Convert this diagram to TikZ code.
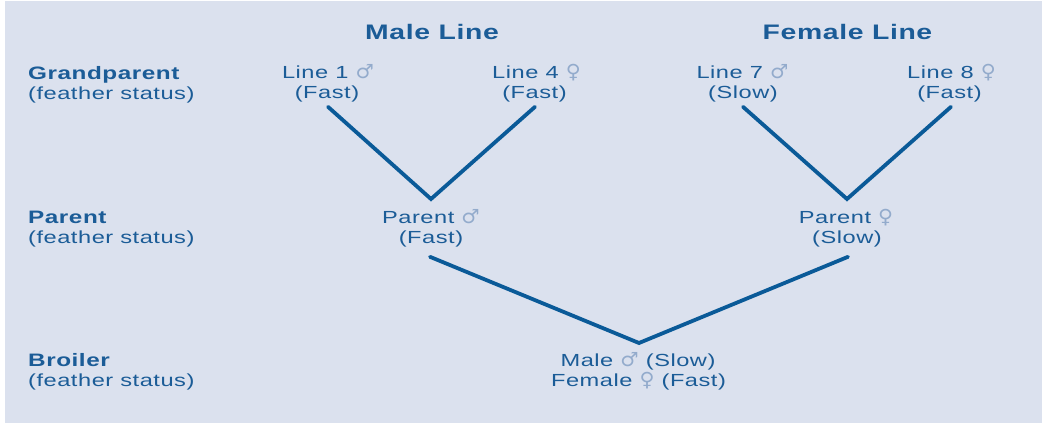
\documentclass[tikz,border=0pt]{standalone}
\usepackage{fontspec}
\setmainfont[FakeStretch=1.35,LetterSpace=3]{Liberation Sans}
\newfontfamily\symfont[FakeStretch=1.05]{DejaVu Sans}
\definecolor{bgc}{HTML}{DBE1EE}
\definecolor{txc}{HTML}{1B5C97}
\definecolor{lnc}{HTML}{0A5A98}
\definecolor{syc}{HTML}{93ABCC}
\newcommand{\ma}{{\symfont\fontsize{19.5}{20}\selectfont\color{syc}\char"2642}}
\newcommand{\fe}{{\symfont\fontsize{19.5}{20}\selectfont\color{syc}\char"2640}}
\tikzset{
  txt/.style={inner sep=0pt, anchor=base, text=txc, font=\fontsize{17.5}{20}\selectfont},
  lab/.style={txt, anchor=base west},
  labb/.style={lab, font=\fontsize{18}{20}\selectfont\bfseries},
  head/.style={txt, font=\fontsize{21}{24}\selectfont\bfseries},
  conn/.style={draw=lnc, line width=3.8pt, line cap=round, line join=miter}
}
\begin{document}
\begin{tikzpicture}[x=1pt,y=-1pt]
\fill[white] (0,0) rectangle (1042,423);
\useasboundingbox (0,0) rectangle (1042,423);
\fill[bgc] (5,1) rectangle (1042,423);
% headers
\node[head] (hm) at (432,39) {Male Line};
\node[head] (hf) at (847.5,39) {Female Line};
% row labels
\node[labb] (g1) at (28,79) {Grandparent};
\node[lab]  (g2) at (28,99) {(feather status)};
\node[labb] (p1) at (28,223) {Parent};
\node[lab]  (p2) at (28,243) {(feather status)};
\node[labb] (b1) at (28,366) {Broiler};
\node[lab]  (b2) at (28,386) {(feather status)};
% grandparents
\node[txt] (l1a) at (328,78) {Line 1 \ma};
\node[txt] (l1b) at (327,98) {(Fast)};
\node[txt] (l4a) at (536.5,78) {Line 4 \fe};
\node[txt] (l4b) at (534.5,98) {(Fast)};
\node[txt] (l7a) at (742.5,78) {Line 7 \ma};
\node[txt] (l7b) at (743,98) {(Slow)};
\node[txt] (l8a) at (951.5,78) {Line 8 \fe};
\node[txt] (l8b) at (949.5,98) {(Fast)};
% parents
\node[txt] (pma) at (431,223) {Parent \ma};
\node[txt] (pmb) at (431,243) {(Fast)};
\node[txt] (pfa) at (846,223) {Parent \fe};
\node[txt] (pfb) at (847,243) {(Slow)};
% broiler
\node[txt] (ba) at (638,366) {Male \ma{} (Slow)};
\node[txt] (bb) at (638.5,386) {Female \fe{} (Fast)};
% apex coordinates
\coordinate (vm) at (431,199);
\coordinate (vf) at (847,199);
\coordinate (vb) at (639,343);
% connectors
\draw[conn] ([shift={(1,5)}]l1b.south) -- (vm) -- ([shift={(0.5,5)}]l4b.south);
\draw[conn] ([shift={(0,5)}]l7b.south) -- (vf) -- ([shift={(1.5,5)}]l8b.south);
\draw[conn] ([shift={(-1,10)}]pmb.south) -- (vb) -- ([shift={(1,10)}]pfb.south);
\end{tikzpicture}
\end{document}
